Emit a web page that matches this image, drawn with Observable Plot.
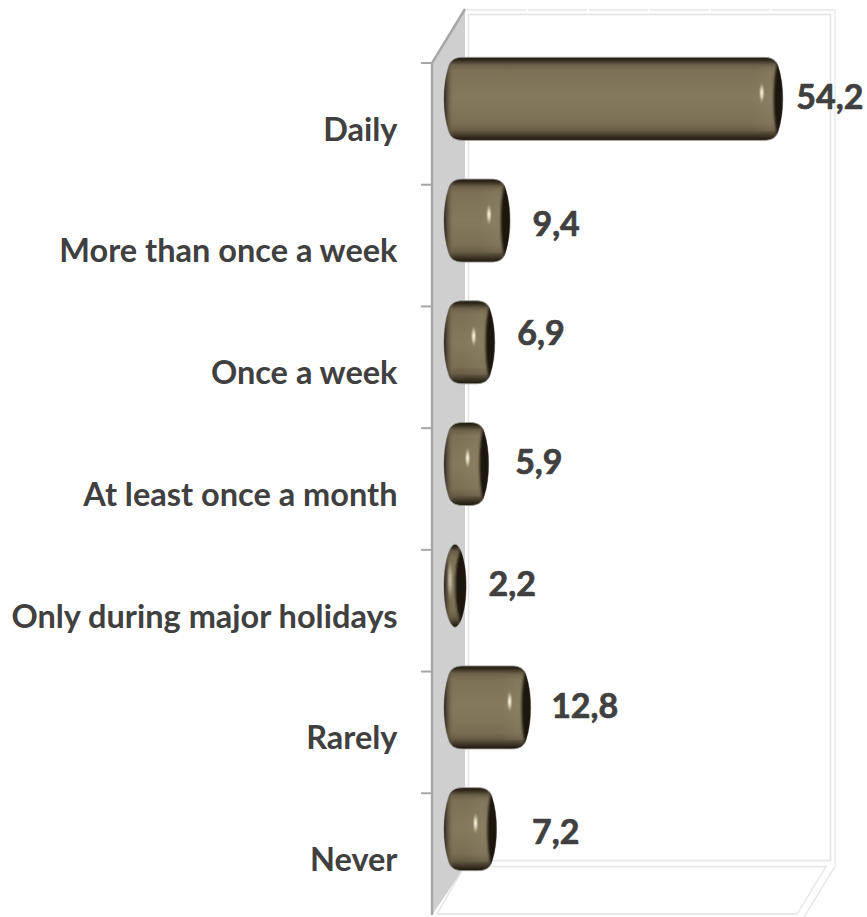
<!DOCTYPE html>
<html>
<head>
<meta charset="utf-8">
<style>html,body{margin:0;padding:0;background:#fff}svg{display:block}</style>
<script src="https://cdn.jsdelivr.net/npm/d3@7"></script>
<script src="https://cdn.jsdelivr.net/npm/@observablehq/plot@0.6"></script>
</head>
<body>
<div id="chart"></div>
<script>
const categories = ["Daily","More than once a week","Once a week","At least once a month","Only during major holidays","Rarely","Never"];
const values = [54.2,9.4,6.9,5.9,2.2,12.8,7.2];
const valueLabels = ["54,2","9,4","6,9","5,9","2,2","12,8","7,2"];
const labelGapX = [13,22,22,26,22,20,35];
const labelShiftY = [-1,4,-9,-1,-1,-1,3];
const gridValues = [10,20,30,40,50];
const rows = categories.map((c,i)=>({category:c,value:values[i],label:valueLabels[i]}));

const NS = "http://www.w3.org/2000/svg";
const el = (n,a,p)=>{const e=document.createElementNS(NS,n);for(const k in a)e.setAttribute(k,a[k]);if(p)p.appendChild(e);return e;};

// Perspective box behind the bars (walls, floor, tick marks), from the scales' extent.
function box(index, scales, channels, dim){
  const g = el("g",{fill:"none"});
  const yTop = dim.marginTop, yBot = dim.height - dim.marginBottom;
  const L = 432, BL = 466, BI = 468.5, BR = 830.5, BO = 835, T = 10, TI = 14.5, B = 860.5, BB = 866.5;
  el("path",{d:`M${L},${yTop}L${BL-1},${T-1}V${BB}L${L},${yBot}Z`,fill:"#cfcfcf"},g);
  el("rect",{x:BI,y:TI,width:BR-BI,height:B-TI,stroke:"#e4e4e4","stroke-width":1.6},g);
  el("path",{d:`M${BI-1.5},${T}H${BO}V${BB}`,stroke:"#e8e8e8","stroke-width":1.4},g);
  for(const v of gridValues){
    const gx = scales.x(v)+13.4;
    el("path",{d:`M${gx},${T-2}V${TI-1}`,stroke:"#fff","stroke-width":2},g);
  }
  el("path",{d:`M${BI-4},${BB}H${BO-9}L${BO-38},${yBot-1}H${L+5}Z`,stroke:"#e4e4e4","stroke-width":1.4},g);
  el("path",{d:`M${BO},${BB}L${BO-31},${dim.height}`,stroke:"#e4e4e4","stroke-width":1.4},g);
  el("path",{d:`M${L},${yBot}V${yTop}L${BL-1},${T-1}`,stroke:"#a6a6a6","stroke-width":2.4},g);
  const bw = scales.y.bandwidth;
  const edges = categories.map(c=>scales.y(c)).concat([scales.y(categories[6])+bw]);
  for(const e of edges) el("path",{d:`M${L-11},${e}H${L}`,stroke:"#a6a6a6","stroke-width":2},g);
  return g;
}

function pillowPath(x,y,w,h){
  if(w<30){ // slim bar reads as an ellipse
    const r=w/2;
    return `M${x},${y+h/2}C${x},${y+h*0.2} ${x+r*0.55},${y} ${x+r},${y}C${x+w-r*0.55},${y} ${x+w},${y+h*0.2} ${x+w},${y+h/2}C${x+w},${y+h*0.8} ${x+w-r*0.55},${y+h} ${x+r},${y+h}C${x+r*0.55},${y+h} ${x},${y+h*0.8} ${x},${y+h/2}Z`;
  }
  const c=19, b=4.5;
  return `M${x},${y+h/2}C${x},${y+h*0.36} ${x+1.5},${y+c} ${x+b},${y+c*0.5}C${x+6.5},${y+2.5} ${x+11},${y} ${x+c},${y}H${x+w-c}C${x+w-11},${y} ${x+w-6.5},${y+2.5} ${x+w-b},${y+c*0.5}C${x+w-1.5},${y+c} ${x+w},${y+h*0.36} ${x+w},${y+h/2}C${x+w},${y+h*0.64} ${x+w-1.5},${y+h-c} ${x+w-b},${y+h-c*0.5}C${x+w-6.5},${y+h-2.5} ${x+w-11},${y+h} ${x+w-c},${y+h}H${x+c}C${x+11},${y+h} ${x+6.5},${y+h-2.5} ${x+b},${y+h-c*0.5}C${x+1.5},${y+h-c} ${x},${y+h*0.64} ${x},${y+h/2}Z`;
}

function pillowRender(index, scales, channels, dim, ctx, next){
  const g = next(index, scales, channels, dim, ctx);
  g.querySelectorAll("rect").forEach((r,i)=>{
    const x=+r.getAttribute("x"),y=+r.getAttribute("y"),w=+r.getAttribute("width"),h=+r.getAttribute("height");
    const d=pillowPath(x,y,w,h), id="barclip"+i;
    const wrap=el("g",{});
    const cp=el("clipPath",{id},wrap); el("path",{d},cp);
    el("path",{d,fill:"url(#barV)",stroke:"#9a9a9a","stroke-width":0.9},wrap);
    const s=el("g",{"clip-path":`url(#${id})`},wrap);
    const right=x+w, cx=y+h/2;
    el("rect",{x,y,width:Math.min(10,w*0.4),height:h,fill:"url(#barL)"},s);
    const cw=w<30?w*0.48:9;
    if(w>=30) el("rect",{x:right-30,y:y+9,width:22,height:h-18,fill:"url(#barGlow)"},s);
    el("path",{d:`M${right+1},${y+3}L${right-5},${y+3}C${right-cw+1},${y+h*0.2} ${right-cw},${y+h*0.32} ${right-cw},${cx}C${right-cw},${y+h*0.68} ${right-cw+1},${y+h*0.8} ${right-5},${y+h-3}L${right+1},${y+h-3}Z`,fill:"#1c1810",filter:"url(#soft)"},s);
    const hx=Math.max(x+6,right-21);
    el("ellipse",{cx:hx,cy:cx-6,rx:w<30?3.5:3.2,ry:w<30?22:11,fill:"url(#barH)",opacity:w<30?0.6:1},s);
    r.replaceWith(wrap);
  });
  return g;
}

const svg = Plot.plot({
  width:867, height:917,
  marginLeft:452.7, marginRight:48.9, marginTop:63, marginBottom:2,
  style:{background:"#fff",overflow:"visible"},
  x:{domain:[0,60],axis:null},
  y:{domain:categories,padding:0,axis:null,round:false,label:null},
  marks:[
    box,
    Plot.barX(rows,{x1:()=>0,x2:"value",y:"category",insetLeft:-8.7,insetTop:19.35,insetBottom:19.35,dy:-25,fill:"#7f7358",render:pillowRender}),
    Plot.axisY({domain:categories,label:null,tickSize:0,tickPadding:55.7,fontSize:32.5,fontWeight:700,fill:"#404040",stroke:"#404040",strokeWidth:0.7,fontFamily:"Lato",dy:6}),
    ...rows.map((r,i)=>Plot.text([r],{x:"value",y:"category",text:"label",textAnchor:"start",dx:labelGapX[i],dy:-25+labelShiftY[i],fontSize:34,fontWeight:700,fill:"#404040",stroke:"#404040",strokeWidth:0.7,fontFamily:"Lato"}))
  ]
});
const defs = el("defs",{});
svg.insertBefore(defs,svg.firstChild);
const grad=(id,attrs,stops,tag="linearGradient")=>{const g=el(tag,{id,...attrs},defs);stops.forEach(([o,c,a])=>el("stop",{offset:o,"stop-color":c,"stop-opacity":a===undefined?1:a},g));};
grad("barV",{x1:0,y1:0,x2:0,y2:1},[[0,"#1f1b11"],[0.03,"#2e2819"],[0.09,"#6a5f48"],[0.16,"#7c7056"],[0.5,"#85795e"],[0.8,"#7a6e54"],[0.88,"#675c45"],[0.95,"#3a3323"],[1,"#191509"]]);
grad("barL",{x1:0,y1:0,x2:1,y2:0},[[0,"#1f1b11",0.9],[0.35,"#3a3323",0.55],[1,"#7f7358",0]]);
grad("barGlow",{x1:0,y1:0,x2:1,y2:0},[[0,"#a3977c",0],[0.75,"#a3977c",0.16],[1,"#a3977c",0.12]]);
grad("barH",{},[[0,"#fffdf0",1],[0.45,"#f0e8d0",0.65],[1,"#b0a688",0]],"radialGradient");
const f=el("filter",{id:"soft",x:"-30%",y:"-10%",width:"160%",height:"120%"},defs);
el("feGaussianBlur",{stdDeviation:0.9},f);
document.getElementById("chart").appendChild(svg);
</script>
</body>
</html>
